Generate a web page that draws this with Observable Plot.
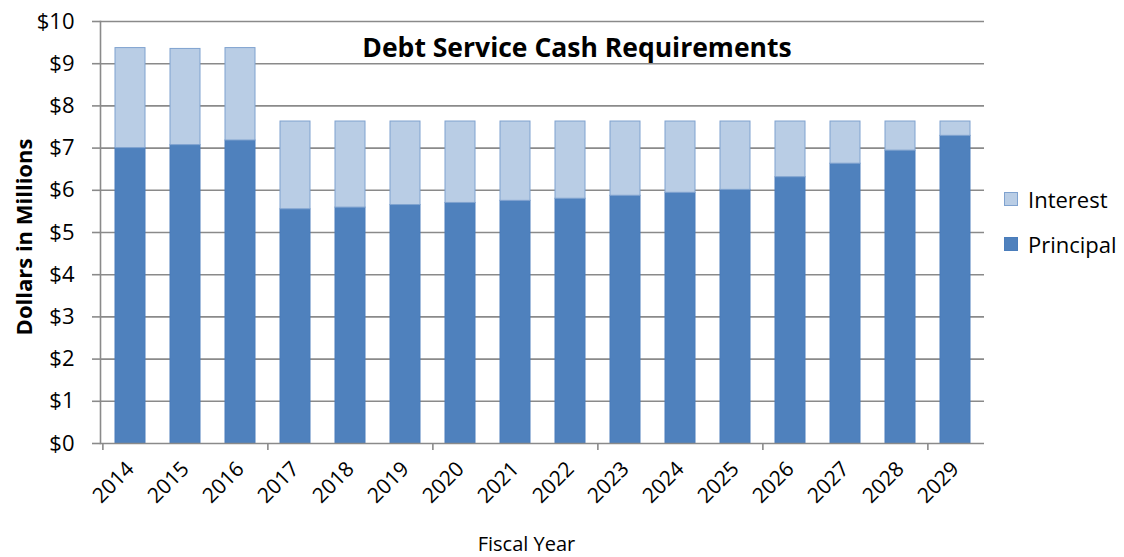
<!DOCTYPE html>
<html><head><meta charset="utf-8">
<script src="https://cdn.jsdelivr.net/npm/d3@7"></script>
<script src="https://cdn.jsdelivr.net/npm/@observablehq/plot@0.6"></script>
<style>
body{margin:0;background:#fff;font-family:"Open Sans",Lato,sans-serif;color:#000;}
#wrap{position:relative;width:1124px;height:557px;overflow:hidden;}
#title{position:absolute;left:0;width:1154px;top:32px;text-align:center;font-weight:bold;font-size:26.5px;line-height:30px;white-space:nowrap;}
#ylab{position:absolute;left:23px;top:237px;transform:translate(-50%,-50%) rotate(-90deg);white-space:nowrap;font-weight:bold;font-size:22px;line-height:26px;}
#xlab{position:absolute;left:0;width:1053px;top:532px;text-align:center;font-size:20px;line-height:24px;}
.li{position:absolute;left:1004px;display:flex;align-items:center;height:22px;font-size:22px;line-height:22px;white-space:nowrap;}
.sw{width:14px;height:14px;margin-right:10px;box-sizing:border-box;}
</style></head><body>
<div id="wrap"></div>
<script>
const years = ["2014","2015","2016","2017","2018","2019","2020","2021","2022","2023","2024","2025","2026","2027","2028","2029"];
const principal = [7.00,7.07,7.18,5.55,5.59,5.65,5.70,5.75,5.80,5.87,5.94,6.01,6.31,6.63,6.94,7.29];
const interest  = [2.37,2.28,2.19,2.08,2.04,1.98,1.93,1.88,1.83,1.76,1.69,1.62,1.32,1.00,0.69,0.34];
const seriesNames = ["Interest","Principal"];
const seriesFill = ["#b9cde5","#4f81bd"];
const seriesStroke = ["#7fa2cf","#4a7dbb"];
const yTicks = [0,1,2,3,4,5,6,7,8,9,10];
const xTickMarks = ["2014","2017","2020","2023","2026","2029"];
const titleText = "Debt Service Cash Requirements";
const yLabel = "Dollars in Millions";
const xLabel = "Fiscal Year";

const rows = [];
years.forEach((y,i)=>{
  rows.push({year:y, series:"Principal", value:principal[i]});
  rows.push({year:y, series:"Interest", value:interest[i]});
});

const W=1124, H=557, mL=100, mR=140, mT=21, mB=114;
const step = (W-mL-mR)/years.length;
const grid = "#8a8a8a";
const strokeOf = Object.fromEntries(seriesNames.map((s,i)=>[s,seriesStroke[i]]));
const font = "'Open Sans', Lato, sans-serif";

const chart = Plot.plot({
  width:W, height:H, marginLeft:mL, marginRight:mR, marginTop:mT, marginBottom:mB,
  style:{fontFamily:font, color:"#000", background:"#fff"},
  x:{domain:years, paddingInner:0.46, paddingOuter:0.23, align:0.5},
  y:{domain:[0,10]},
  color:{domain:seriesNames, range:seriesFill},
  marks:[
    Plot.gridY(yTicks.slice(1), {stroke:grid, strokeOpacity:1, strokeWidth:1.6}),
    Plot.barY(rows, Plot.stackY({x:"year", y:"value", fill:"series", order:["Principal","Interest"],
      stroke:d=>strokeOf[d.series], strokeWidth:1})),
    Plot.ruleY([0], {stroke:grid, strokeWidth:1.6}),
    Plot.frame({anchor:"left", stroke:grid, strokeWidth:1.6}),
    Plot.axisY(yTicks, {tickSize:8, tickPadding:18, fontSize:22, stroke:grid, strokeWidth:1.6,
      tickFormat:d=>"$"+d, label:null}),
    Plot.axisX(xTickMarks, {tickSize:7, dx:-step/2, stroke:grid, strokeWidth:1.6, tickFormat:()=>"", label:null}),
    Plot.axisX({tickSize:0, tickRotate:-45, tickPadding:22, fontSize:21, label:null})
  ]
});

const wrap = document.getElementById("wrap");
wrap.appendChild(chart);
const t = document.createElement("div"); t.id="title"; t.textContent=titleText; wrap.appendChild(t);
const yl = document.createElement("div"); yl.id="ylab"; yl.textContent=yLabel; wrap.appendChild(yl);
const xl = document.createElement("div"); xl.id="xlab"; xl.textContent=xLabel; wrap.appendChild(xl);
const legendTops = [188, 233];
seriesNames.forEach((s,i)=>{
  const li=document.createElement("div"); li.className="li"; li.style.top=legendTops[i]+"px";
  const sw=document.createElement("span"); sw.className="sw";
  sw.style.background=seriesFill[i]; sw.style.border="1px solid "+seriesStroke[i];
  const tx=document.createElement("span"); tx.textContent=s;
  li.appendChild(sw); li.appendChild(tx); wrap.appendChild(li);
});
</script>
</body></html>
